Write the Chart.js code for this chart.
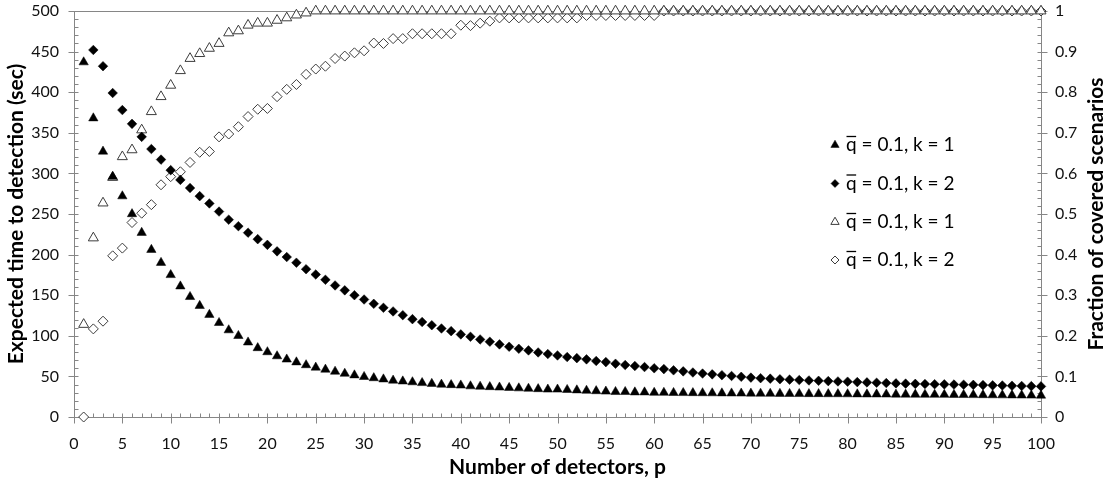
<!DOCTYPE html>
<html>
<head>
<meta charset="utf-8">
<script src="https://cdn.jsdelivr.net/npm/chart.js@4.4.0/dist/chart.umd.min.js"></script>
<style>
  html, body { margin: 0; padding: 0; background: #fff; }
  #wrap { width: 1112px; height: 487px; }
</style>
</head>
<body>
<div id="wrap"><canvas id="chart" width="1112" height="487"></canvas></div>
<script>
// Number of detectors p
const detectors = [
    1, 2, 3, 4, 5, 6, 7, 8, 9, 10, 11, 12, 13, 14, 15, 16, 17, 18, 19, 20,
    21, 22, 23, 24, 25, 26, 27, 28, 29, 30, 31, 32, 33, 34, 35, 36, 37, 38, 39, 40,
    41, 42, 43, 44, 45, 46, 47, 48, 49, 50, 51, 52, 53, 54, 55, 56, 57, 58, 59, 60,
    61, 62, 63, 64, 65, 66, 67, 68, 69, 70, 71, 72, 73, 74, 75, 76, 77, 78, 79, 80,
    81, 82, 83, 84, 85, 86, 87, 88, 89, 90, 91, 92, 93, 94, 95, 96, 97, 98, 99, 100
];

// Expected time to detection (sec), k = 1
const timeK1 = [
    437, 368, 327, 296, 272, 250, 227, 206, 190, 175, 161, 148, 137, 126, 116, 107, 100, 92, 85, 80,
    75, 71, 67.5, 64, 61, 58.5, 56, 53.5, 51.5, 49.5, 48, 46.5, 45, 44, 43, 42, 41, 40, 39.5, 39,
    38, 37.5, 37, 36.5, 36, 35.5, 35, 34.5, 34, 34, 33.5, 33, 32.5, 32, 31.5, 31, 31, 30.5, 30.5, 30,
    30, 29.8, 29.7, 29.6, 29.5, 29.4, 29.3, 29.2, 29.1, 29, 28.9, 28.8, 28.7, 28.6, 28.5, 28.4, 28.4, 28.3, 28.3, 28.2,
    28.1, 28, 28, 27.9, 27.8, 27.8, 27.7, 27.6, 27.6, 27.5, 27.4, 27.3, 27.2, 27.1, 27, 26.9, 26.8, 26.7, 26.6, 26.5
];

// Expected time to detection (sec), k = 2 (undefined for a single detector)
const timeK2 = [
    null, 452, 432, 399, 378, 361, 345, 330, 317, 304, 292, 282, 272, 263, 253, 243, 235, 227, 219, 212,
    204, 197, 190, 182, 175.5, 169, 162, 156, 150, 144.7, 139.4, 134.5, 130, 125.4, 120.5, 117, 113, 109, 105.7, 101.7,
    98.8, 95.5, 92.7, 89.4, 86.5, 84, 82, 79.5, 77.5, 75.8, 73.8, 72.5, 71, 69, 67.6, 65.6, 64, 62.8, 61.5, 60,
    59, 57.5, 56.2, 54.8, 53.5, 52.5, 51.5, 50.5, 49.5, 48.5, 47.8, 47.2, 46.5, 46, 45.5, 45, 44.6, 44.2, 43.8, 43.5,
    43, 42.6, 42.2, 41.8, 41.4, 41.1, 40.8, 40.6, 40.4, 40.2, 40, 39.8, 39.6, 39.3, 39, 38.8, 38.5, 38.2, 38, 37.7
];

// Fraction of covered scenarios, k = 1
const coverK1 = [
    0.228, 0.441, 0.527, 0.59, 0.641, 0.658, 0.707, 0.752, 0.789, 0.817, 0.853, 0.883, 0.895, 0.908, 0.92, 0.946, 0.951, 0.965, 0.97, 0.97,
    0.977, 0.983, 0.99, 0.995, 1, 1, 1, 1, 1, 1, 1, 1, 1, 1, 1, 1, 1, 1, 1, 1,
    1, 1, 1, 1, 1, 1, 1, 1, 1, 1, 1, 1, 1, 1, 1, 1, 1, 1, 1, 1,
    1, 1, 1, 1, 1, 1, 1, 1, 1, 1, 1, 1, 1, 1, 1, 1, 1, 1, 1, 1,
    1, 1, 1, 1, 1, 1, 1, 1, 1, 1, 1, 1, 1, 1, 1, 1, 1, 1, 1, 1
];

// Fraction of covered scenarios, k = 2
const coverK2 = [
    0, 0.217, 0.236, 0.397, 0.416, 0.479, 0.502, 0.523, 0.572, 0.592, 0.604, 0.627, 0.652, 0.654, 0.69, 0.697, 0.715, 0.74, 0.758, 0.76,
    0.789, 0.807, 0.819, 0.844, 0.857, 0.864, 0.883, 0.889, 0.897, 0.902, 0.921, 0.92, 0.932, 0.932, 0.944, 0.944, 0.944, 0.944, 0.944, 0.965,
    0.964, 0.97, 0.975, 0.983, 0.983, 0.983, 0.983, 0.983, 0.983, 0.983, 0.983, 0.983, 0.989, 0.989, 0.989, 0.989, 0.989, 0.989, 0.989, 0.989,
    1, 1, 1, 1, 1, 1, 1, 1, 1, 1, 1, 1, 1, 1, 1, 1, 1, 1, 1, 1,
    1, 1, 1, 1, 1, 1, 1, 1, 1, 1, 1, 1, 1, 1, 1, 1, 1, 1, 1, 1
];

// the q in each label carries an overline (mean q), drawn by the legend plugin
const seriesLabels = ['q = 0.1, k = 1', 'q = 0.1, k = 2', 'q = 0.1, k = 1', 'q = 0.1, k = 2'];

const FONT = 'Lato, "Open Sans", sans-serif';
const AXIS_COLOR = '#868686';
const OPEN_EDGE = '#3c3c3c';

function toPoints(values) {
    return detectors.map((p, i) => ({ x: p, y: values[i] }));
}

// frame, tick marks and axis titles drawn like the Excel original
const axisDecor = {
    id: 'axisDecor',
    beforeDatasetsDraw(chart) {
        const { ctx, chartArea: a, scales } = chart;
        ctx.save();
        ctx.strokeStyle = AXIS_COLOR;
        ctx.lineWidth = 1;
        ctx.beginPath();
        ctx.rect(Math.round(a.left) + 0.5, Math.round(a.top) + 0.5,
            Math.round(a.right - a.left), Math.round(a.bottom - a.top));
        ctx.stroke();

        ctx.beginPath();
        // x axis: minor every 1, major every 5
        for (let v = 0; v <= 100; v++) {
            const px = Math.round(scales.x.getPixelForValue(v)) + 0.5;
            const b = Math.round(a.bottom) + 0.5;
            ctx.moveTo(px, b - 4);
            ctx.lineTo(px, v % 5 === 0 ? b + 6 : b);
        }
        // left axis: minor every 10, major every 50
        for (let v = 0; v <= 500; v += 10) {
            const py = Math.round(scales.y.getPixelForValue(v)) + 0.5;
            const l = Math.round(a.left) + 0.5;
            ctx.moveTo(v % 50 === 0 ? l - 6 : l, py);
            ctx.lineTo(l + 4, py);
        }
        // right axis: minor every 0.02, major every 0.1
        for (let i = 0; i <= 50; i++) {
            const py = Math.round(scales.y2.getPixelForValue(i / 50)) + 0.5;
            const r = Math.round(a.right) + 0.5;
            ctx.moveTo(r - 4, py);
            ctx.lineTo(i % 5 === 0 ? r + 6 : r, py);
        }
        ctx.stroke();

        ctx.fillStyle = '#000';
        ctx.font = 'bold 21px ' + FONT;
        ctx.textAlign = 'center';
        ctx.textBaseline = 'middle';
        const midY = (a.top + a.bottom) / 2;
        ctx.save();
        ctx.translate(16, midY);
        ctx.rotate(-Math.PI / 2);
        ctx.fillText('Expected time to detection (sec)', 0, 0);
        ctx.restore();
        ctx.save();
        ctx.translate(1096, midY);
        ctx.rotate(-Math.PI / 2);
        ctx.fillText('Fraction of covered scenarios', 0, 0);
        ctx.restore();
        ctx.fillText('Number of detectors, p', (a.left + a.right) / 2, 467);
        ctx.restore();
    }
};

// legend inside the plot, right side
const innerLegend = {
    id: 'innerLegend',
    afterDraw(chart) {
        const { ctx } = chart;
        const rows = [145, 183.5, 222, 260];
        const textX = 846;
        ctx.save();
        chart.data.datasets.forEach((ds, i) => {
            const y = rows[i];
            ctx.fillStyle = ds.backgroundColor;
            ctx.strokeStyle = ds.borderColor;
            ctx.lineWidth = ds.borderWidth;
            Chart.helpers.drawPoint(ctx, {
                pointStyle: ds.pointStyle,
                radius: ds.pointStyle === 'triangle' ? 4.8 : 4,
                rotation: 0,
                borderWidth: ds.borderWidth
            }, 835, y);
            ctx.fillStyle = '#000';
            ctx.font = '19px ' + FONT;
            ctx.textAlign = 'left';
            ctx.textBaseline = 'middle';
            ctx.fillText(ds.label, textX, y);
            // overline over the q
            const qw = ctx.measureText('q').width;
            ctx.strokeStyle = '#000';
            ctx.lineWidth = 1.3;
            ctx.beginPath();
            ctx.moveTo(textX + 0.5, y - 8.5);
            ctx.lineTo(textX + qw - 0.5, y - 8.5);
            ctx.stroke();
        });
        ctx.restore();
    }
};

const tickFont = { family: FONT, size: 16 };

// stop the tick padding from pushing the plot area down
function keepPlotEdges(scale) {
    scale.paddingTop = 0;
    scale.paddingBottom = 0;
}

new Chart(document.getElementById('chart'), {
    type: 'scatter',
    data: {
        datasets: [
            {
                label: seriesLabels[0],
                data: toPoints(timeK1),
                yAxisID: 'y',
                pointStyle: 'triangle',
                pointRadius: 5.4,
                backgroundColor: '#000',
                borderColor: '#000',
                borderWidth: 0.5,
                clip: false
            },
            {
                label: seriesLabels[1],
                data: toPoints(timeK2),
                yAxisID: 'y',
                pointStyle: 'rectRot',
                pointRadius: 4.8,
                backgroundColor: '#000',
                borderColor: '#000',
                borderWidth: 0.5,
                clip: false
            },
            {
                label: seriesLabels[2],
                data: toPoints(coverK1),
                yAxisID: 'y2',
                pointStyle: 'triangle',
                pointRadius: 5.8,
                backgroundColor: '#fff',
                borderColor: OPEN_EDGE,
                borderWidth: 1,
                clip: false
            },
            {
                label: seriesLabels[3],
                data: toPoints(coverK2),
                yAxisID: 'y2',
                pointStyle: 'rectRot',
                pointRadius: 5,
                backgroundColor: '#fff',
                borderColor: OPEN_EDGE,
                borderWidth: 1,
                clip: false
            }
        ]
    },
    options: {
        responsive: false,
        animation: false,
        devicePixelRatio: 1,
        layout: { padding: { top: 11, left: 0, right: 0, bottom: 0 } },
        plugins: {
            legend: { display: false },
            tooltip: { enabled: false }
        },
        scales: {
            x: {
                type: 'linear',
                min: 0,
                max: 100,
                grid: { display: false, drawTicks: false },
                border: { display: false },
                ticks: { stepSize: 5, padding: 17, color: '#111', font: tickFont, maxRotation: 0, autoSkip: false },
                afterFit(scale) { scale.height = 70; }
            },
            y: {
                position: 'left',
                min: 0,
                max: 500,
                grid: { display: false, drawTicks: false },
                border: { display: false },
                ticks: { stepSize: 50, padding: 15, color: '#111', font: tickFont },
                afterFit(scale) { scale.width = 74; keepPlotEdges(scale); }
            },
            y2: {
                position: 'right',
                min: 0,
                max: 1,
                grid: { display: false, drawTicks: false },
                border: { display: false },
                ticks: {
                    stepSize: 0.1,
                    padding: 14,
                    color: '#111',
                    font: tickFont,
                    callback: v => String(+v.toFixed(1))
                },
                afterFit(scale) { scale.width = 71; keepPlotEdges(scale); }
            }
        }
    },
    plugins: [axisDecor, innerLegend]
});
</script>
</body>
</html>
